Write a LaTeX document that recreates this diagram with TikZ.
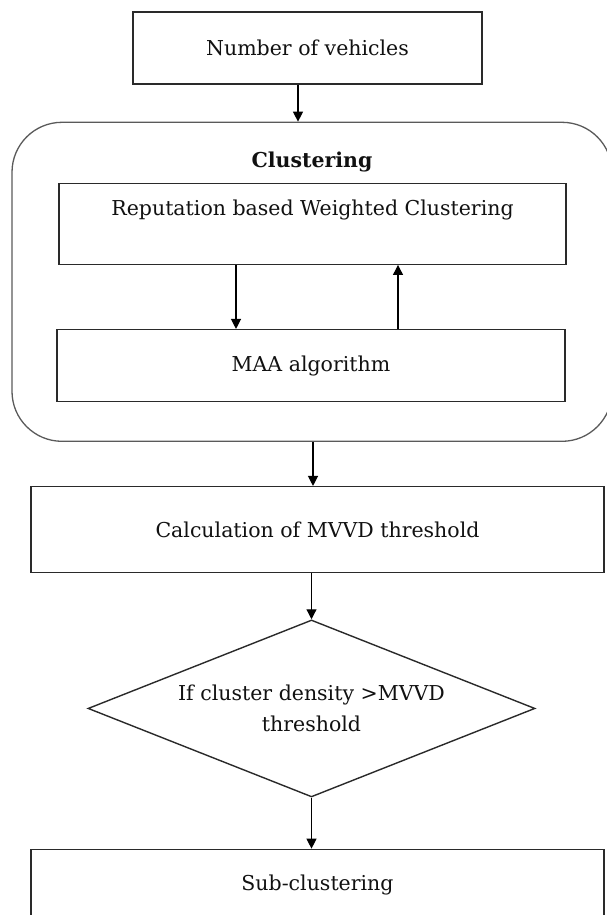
\documentclass[tikz,border=0pt]{standalone}
\usepackage{fontspec}
\setmainfont{DejaVu Serif}
\usepackage{tikz}
\usetikzlibrary{
  positioning,
  arrows.meta,
  shapes.geometric,
  calc,
}
\definecolor{cLine}  {HTML}{2A2A2A}
\definecolor{cGroup} {HTML}{5A5A5A}
\definecolor{cText}  {HTML}{111111}

\begin{document}
\begin{tikzpicture}[
  font=\fontsize{20.5}{31}\selectfont,
  >={Triangle[length=10pt, width=10pt]},
  every node/.style={align=center, text=cText},
  %
  procbox/.style={
    draw=cLine, fill=white, line width=1.3pt,
    inner sep=0pt, minimum height=72pt,
  },
  groupbox/.style={
    draw=cGroup, line width=1.3pt,
    rounded corners=50pt, inner sep=0pt,
    minimum width=600pt, minimum height=319pt,
  },
  decbox/.style={
    draw=cLine, fill=white, line width=1.4pt,
    shape=diamond, aspect=2.525, inner sep=0pt,
    minimum width=447pt, minimum height=177pt,
  },
  grouptitle/.style={font=\fontsize{20.5}{24}\selectfont\bfseries},
  arr/.style={->, line width=1.2pt, draw=black},
]

% ────────────── CANVAS ─────────────────────────────────────────────────────
\useasboundingbox (0pt,0pt) rectangle (607pt,-915pt);
\clip (0pt,0pt) rectangle (607pt,-915pt);

% ────────────── INPUT ──────────────────────────────────────────────────────
\node[procbox, minimum width=349pt] (nveh) at (307.5pt,-48pt) {Number of vehicles};

% ────────────── CLUSTERING GROUP ───────────────────────────────────────────
\node[groupbox, below=37pt of nveh.south, xshift=4.5pt] (clus) {};
\node[grouptitle, below=40pt of clus.north, anchor=center] (clustitle) {Clustering};
\node[procbox, minimum width=507pt, minimum height=81pt,
      text height=15pt, text depth=32pt,
      below=61pt of clus.north, xshift=0.5pt]                 (rwc) {Reputation based Weighted Clustering};
\node[procbox, minimum width=508pt, below=64pt of rwc, xshift=-1.5pt] (maa) {MAA algorithm};

% ────────────── THRESHOLD + DECISION ───────────────────────────────────────
\node[procbox, minimum width=573pt, minimum height=86pt,
      below=44pt of clus.south, xshift=5.5pt]                 (calc) {Calculation of MVVD threshold};
\node[decbox, below=46pt of calc.south, xshift=-6pt]          (dec) {If cluster density >MVVD\\threshold};
\node[procbox, minimum width=573pt,
      below=51pt of dec.south, xshift=6pt]                    (sub) {Sub-clustering};

% ────────────── ARROWS ─────────────────────────────────────────────────────
\draw[arr] ([xshift=-9.5pt]nveh.south) -- ([xshift=-9.5pt]nveh.south |- clus.north);
% loop between the two clustering steps
\draw[arr] ([xshift=-76.5pt]rwc.south) -- ([xshift=-76.5pt]rwc.south |- maa.north);
\draw[arr] ([xshift=85.5pt]rwc.south |- maa.north) -- ([xshift=85.5pt]rwc.south);
\draw[arr] ([xshift=1pt]clus.south) -- ([xshift=1pt]clus.south |- calc.north);
\draw[arr] (dec.north |- calc.south) -- (dec.north);
\draw[arr] (dec.south) -- (dec.south |- sub.north);

\end{tikzpicture}
\end{document}
